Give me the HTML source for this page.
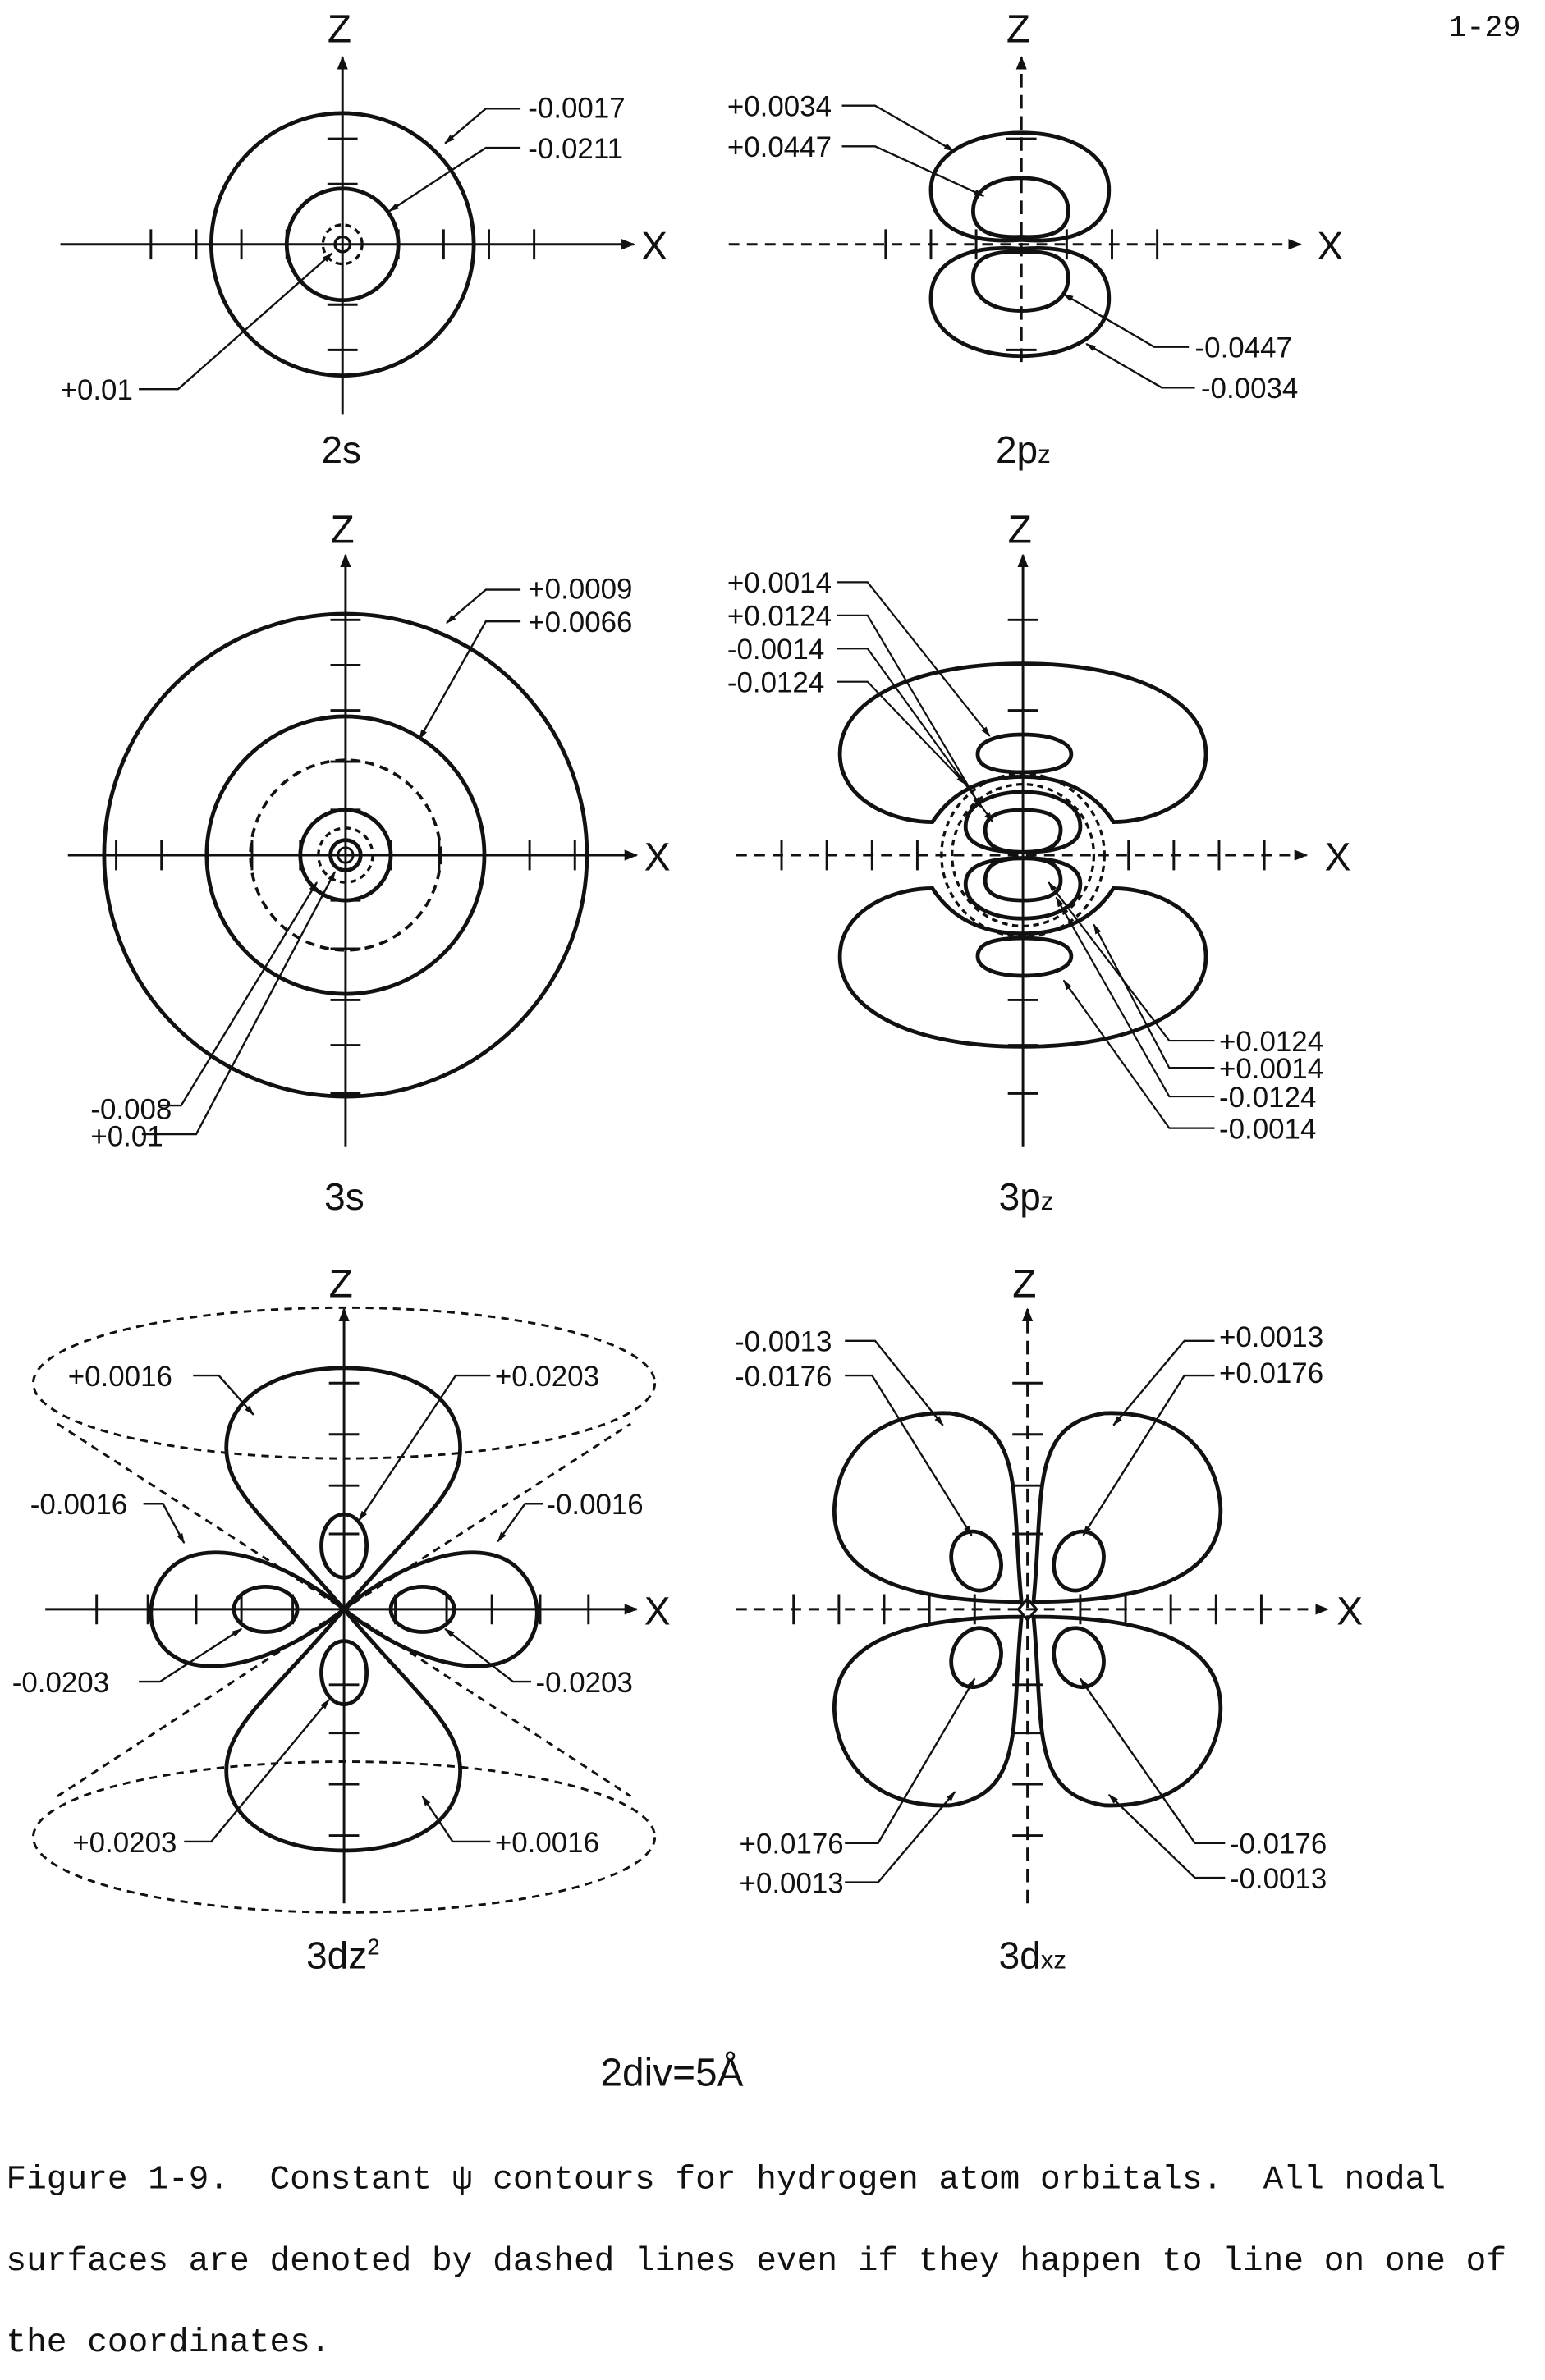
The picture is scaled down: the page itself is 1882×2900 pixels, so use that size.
<!DOCTYPE html>
<html><head><meta charset="utf-8"><style>
html,body{margin:0;padding:0;background:#fff;}
svg{display:block}
text{font-family:"Liberation Sans",sans-serif;fill:#111}
.l text{font-size:19px}
text.m{font-family:"Liberation Mono",monospace;font-size:22.4px;white-space:pre}
</style></head><body>
<svg width="1882" height="2900" viewBox="0 0 1024 1578" xmlns="http://www.w3.org/2000/svg">
<defs>
<marker id="a" viewBox="0 0 10 10" refX="9" refY="5" markerWidth="9" markerHeight="9" orient="auto-start-reverse" markerUnits="userSpaceOnUse"><path d="M0,1 L10,5 L0,9 Z" fill="#111"/></marker>
<marker id="s" viewBox="0 0 10 10" refX="9" refY="5" markerWidth="7" markerHeight="7" orient="auto" markerUnits="userSpaceOnUse"><path d="M0,2 L10,5 L0,8 Z" fill="#111"/></marker>
</defs>
<g fill="none" stroke="#111" stroke-width="2.6">
<text x="960" y="24" class="m" stroke="none" style="font-size:20px">1-29</text>

<!-- 2s -->
<line x1="40" y1="162" x2="420" y2="162" stroke-width="1.6" marker-end="url(#a)"/>
<line x1="227" y1="275" x2="227" y2="38" stroke-width="1.6" marker-end="url(#a)"/>
<g stroke-width="1.6">
<path d="M100,152v20M130,152v20M160,152v20M190,152v20M264,152v20M294,152v20M324,152v20M354,152v20M217,92h20M217,122h20M217,202h20M217,232h20"/></g>
<circle cx="227" cy="162" r="87"/>
<circle cx="227" cy="162" r="37"/>
<circle cx="227" cy="162" r="13" stroke-dasharray="4 3" stroke-width="1.8"/>
<circle cx="227" cy="162" r="5" stroke-width="1.8"/>
<g stroke-width="1.3">
<path d="M345,72H322L295,95" marker-end="url(#s)"/><path d="M345,98H322L258,140" marker-end="url(#s)"/>
<path d="M92,258H118L220,168" marker-end="url(#s)"/></g>
<g stroke="none" class="l"><text x="350" y="78">-0.0017</text><text x="350" y="105">-0.0211</text><text x="40" y="265">+0.01</text>
<text x="425" y="172" style="font-size:26px">X</text><text x="217" y="28" style="font-size:26px">Z</text><text x="213" y="307" style="font-size:25px">2s</text></g>

<!-- 2pz -->
<line x1="483" y1="162" x2="862" y2="162" stroke-width="1.6" stroke-dasharray="7 5" marker-end="url(#a)"/>
<line x1="677" y1="240" x2="677" y2="38" stroke-width="1.6" stroke-dasharray="9 5" marker-end="url(#a)"/>
<path stroke-width="1.6" d="M587,152v20M617,152v20M647,152v20M707,152v20M737,152v20M767,152v20M667,92h20M667,232h20"/>
<path d="M677,159 C640,162 617,150 617,126 C617,102 645,88 677,88 C709,88 735,102 735,126 C735,150 714,162 677,159Z"/>
<path d="M677,157 C655,158 645,152 645,140 C645,126 658,118 677,118 C696,118 708,126 708,140 C708,152 699,158 677,157Z"/>
<path d="M677,165 C640,162 617,174 617,198 C617,222 645,236 677,236 C709,236 735,222 735,198 C735,174 714,162 677,165Z"/>
<path d="M677,167 C655,166 645,172 645,184 C645,198 658,206 677,206 C696,206 708,198 708,184 C708,172 699,166 677,167Z"/>
<g stroke-width="1.3">
<path d="M558,70H580L632,100" marker-end="url(#s)"/><path d="M558,97H580L652,130" marker-end="url(#s)"/>
<path d="M788,230H765L705,195" marker-end="url(#s)"/><path d="M792,257H770L720,228" marker-end="url(#s)"/></g>
<g stroke="none" class="l"><text x="482" y="77">+0.0034</text><text x="482" y="104">+0.0447</text><text x="792" y="237">-0.0447</text><text x="796" y="264">-0.0034</text>
<text x="873" y="172" style="font-size:26px">X</text><text x="667" y="28" style="font-size:26px">Z</text><text x="660" y="307" style="font-size:25px">2p<tspan style="font-size:17px">z</tspan></text></g>

<!-- 3s -->
<line x1="45" y1="567" x2="422" y2="567" stroke-width="1.6" marker-end="url(#a)"/>
<line x1="229" y1="760" x2="229" y2="368" stroke-width="1.6" marker-end="url(#a)"/>
<path stroke-width="1.6" d="M77,557v20M107,557v20M137,557v20M167,557v20M199,557v20M259,557v20M291,557v20M321,557v20M351,557v20M381,557v20M219,411h20M219,441h20M219,471h20M219,505h20M219,537h20M219,597h20M219,629h20M219,663h20M219,693h20M219,725h20"/>
<circle cx="229" cy="567" r="160"/>
<circle cx="229" cy="567" r="92"/>
<circle cx="229" cy="567" r="63" stroke-dasharray="6 4" stroke-width="2"/>
<circle cx="229" cy="567" r="30"/>
<circle cx="229" cy="567" r="18" stroke-dasharray="4 3" stroke-width="1.8"/>
<circle cx="229" cy="567" r="10"/>
<circle cx="229" cy="567" r="5" stroke-width="1.6"/>
<g stroke-width="1.3">
<path d="M345,391H322L296,413" marker-end="url(#s)"/><path d="M345,412H322L278,490" marker-end="url(#s)"/>
<path d="M105,733H120L210,585" marker-end="url(#s)"/><path d="M94,752H130L222,578" marker-end="url(#s)"/></g>
<g stroke="none" class="l"><text x="350" y="397">+0.0009</text><text x="350" y="419">+0.0066</text><text x="60" y="742">-0.008</text><text x="60" y="760">+0.01</text>
<text x="427" y="577" style="font-size:26px">X</text><text x="219" y="360" style="font-size:26px">Z</text><text x="215" y="802" style="font-size:25px">3s</text></g>

<!-- 3pz -->
<line x1="488" y1="567" x2="866" y2="567" stroke-width="1.6" stroke-dasharray="7 5" marker-end="url(#a)"/>
<line x1="678" y1="760" x2="678" y2="368" stroke-width="1.6" marker-end="url(#a)"/>
<path stroke-width="1.6" d="M518,557v20M548,557v20M578,557v20M608,557v20M748,557v20M778,557v20M808,557v20M838,557v20M668,411h20M668,441h20M668,471h20M668,663h20M668,693h20M668,725h20"/>
<path d="M678,515 C705,515 725,525 738,545 C760,545 790,535 798,510 C808,470 760,440 678,440 C596,440 548,470 558,510 C566,535 596,545 618,545 C631,525 651,515 678,515Z"/>
<path d="M678,619 C705,619 725,609 738,589 C760,589 790,599 798,624 C808,664 760,694 678,694 C596,694 548,664 558,624 C566,599 596,589 618,589 C631,609 651,619 678,619Z"/>
<path d="M678,512 C655,512 648,507 648,500 C648,492 660,487 678,487 C696,487 710,492 710,500 C710,507 701,512 678,512Z"/>
<path d="M678,622 C655,622 648,627 648,634 C648,642 660,647 678,647 C696,647 710,642 710,634 C710,627 701,622 678,622Z"/>
<circle cx="678" cy="567" r="54" stroke-dasharray="4 3" stroke-width="1.8"/>
<circle cx="678" cy="567" r="47" stroke-dasharray="4 3" stroke-width="1.8"/>
<path d="M678,565 C650,565 640,558 640,548 C640,532 660,525 678,525 C696,525 716,532 716,548 C716,558 706,565 678,565Z"/>
<path d="M678,565 C660,565 653,560 653,550 C653,540 665,537 678,537 C691,537 703,540 703,550 C703,560 696,565 678,565Z"/>
<path d="M678,569 C650,569 640,576 640,586 C640,602 660,609 678,609 C696,609 716,602 716,586 C716,576 706,569 678,569Z"/>
<path d="M678,569 C660,569 653,574 653,584 C653,594 665,597 678,597 C691,597 703,594 703,584 C703,574 696,569 678,569Z"/>
<g stroke-width="1.2">
<path d="M555,386H575L656,488" marker-end="url(#s)"/><path d="M555,408H575L650,535" marker-end="url(#s)"/>
<path d="M555,430H575L658,545" marker-end="url(#s)"/><path d="M555,452H575L640,520" marker-end="url(#s)"/>
<path d="M805,690H775L695,585" marker-end="url(#s)"/><path d="M805,708H775L725,613" marker-end="url(#s)"/>
<path d="M805,727H775L700,595" marker-end="url(#s)"/><path d="M805,748H775L705,650" marker-end="url(#s)"/></g>
<g stroke="none" class="l"><text x="482" y="393">+0.0014</text><text x="482" y="415">+0.0124</text><text x="482" y="437">-0.0014</text><text x="482" y="459">-0.0124</text>
<text x="808" y="697">+0.0124</text><text x="808" y="715">+0.0014</text><text x="808" y="734">-0.0124</text><text x="808" y="755">-0.0014</text>
<text x="878" y="577" style="font-size:26px">X</text><text x="668" y="360" style="font-size:26px">Z</text><text x="662" y="802" style="font-size:25px">3p<tspan style="font-size:17px">z</tspan></text></g>

<!-- 3dz2 -->
<line x1="30" y1="1067" x2="422" y2="1067" stroke-width="1.6" marker-end="url(#a)"/>
<line x1="228" y1="1262" x2="228" y2="868" stroke-width="1.6" marker-end="url(#a)"/>
<path stroke-width="1.6" d="M64,1057v20M98,1057v20M130,1057v20M160,1057v20M194,1057v20M262,1057v20M296,1057v20M326,1057v20M358,1057v20M390,1057v20M218,917h20M218,951h20M218,985h20M218,1017h20M218,1117h20M218,1149h20M218,1183h20M218,1217h20"/>
<g stroke-dasharray="5 4" stroke-width="1.6">
<ellipse cx="228" cy="917" rx="206" ry="50"/><ellipse cx="228" cy="1218" rx="206" ry="50"/>
<path d="M38,944L228,1067L418,944M38,1191L228,1067L418,1191"/></g>
<path d="M228,1067 C180,1010 150,990 150,960 C150,925 185,907 228,907 C271,907 305,925 305,960 C305,990 276,1010 228,1067Z"/>
<path d="M228,1067 C180,1124 150,1144 150,1174 C150,1209 185,1227 228,1227 C271,1227 305,1209 305,1174 C305,1144 276,1124 228,1067Z"/>
<path d="M228,1067 C190,1035 140,1018 115,1038 C95,1055 95,1085 115,1098 C140,1115 190,1098 228,1067Z"/>
<path d="M228,1067 C266,1035 316,1018 341,1038 C361,1055 361,1085 341,1098 C316,1115 266,1098 228,1067Z"/>
<ellipse cx="228" cy="1025" rx="15" ry="21"/><ellipse cx="228" cy="1109" rx="15" ry="21"/>
<ellipse cx="176" cy="1067" rx="21" ry="15"/><ellipse cx="280" cy="1067" rx="21" ry="15"/>
<g stroke-width="1.3">
<path d="M128,912H145L168,938" marker-end="url(#s)"/><path d="M325,912H302L238,1008" marker-end="url(#s)"/>
<path d="M95,997H108L122,1023" marker-end="url(#s)"/><path d="M360,997H348L330,1022" marker-end="url(#s)"/>
<path d="M92,1115H106L160,1080" marker-end="url(#s)"/><path d="M352,1115H340L295,1080" marker-end="url(#s)"/>
<path d="M122,1221H140L218,1127" marker-end="url(#s)"/><path d="M325,1221H300L280,1191" marker-end="url(#s)"/></g>
<g stroke="none" class="l"><text x="45" y="919">+0.0016</text><text x="328" y="919">+0.0203</text>
<text x="20" y="1004">-0.0016</text><text x="362" y="1004">-0.0016</text><text x="8" y="1122">-0.0203</text><text x="355" y="1122">-0.0203</text>
<text x="48" y="1228">+0.0203</text><text x="328" y="1228">+0.0016</text>
<text x="427" y="1077" style="font-size:26px">X</text><text x="218" y="860" style="font-size:26px">Z</text><text x="203" y="1305" style="font-size:25px">3dz<tspan style="font-size:15px" dy="-9">2</tspan></text></g>

<!-- 3dxz -->
<line x1="488" y1="1067" x2="880" y2="1067" stroke-width="1.6" stroke-dasharray="7 5" marker-end="url(#a)"/>
<line x1="681" y1="1262" x2="681" y2="868" stroke-width="1.6" stroke-dasharray="9 5" marker-end="url(#a)"/>
<path stroke-width="1.6" d="M526,1057v20M556,1057v20M586,1057v20M616,1057v20M646,1057v20M716,1057v20M746,1057v20M776,1057v20M806,1057v20M836,1057v20M671,917h20M671,951h20M671,985h20M671,1017h20M671,1117h20M671,1149h20M671,1183h20M671,1217h20"/>
<path d="M677,1062 C670,990 680,945 630,937 C580,935 555,965 553,1000 C552,1045 600,1062 677,1062Z"/>
<path d="M685,1062 C692,990 682,945 732,937 C782,935 807,965 809,1000 C810,1045 762,1062 685,1062Z"/>
<path d="M677,1072 C670,1144 680,1189 630,1197 C580,1199 555,1169 553,1134 C552,1089 600,1072 677,1072Z"/>
<path d="M685,1072 C692,1144 682,1189 732,1197 C782,1199 807,1169 809,1134 C810,1089 762,1072 685,1072Z"/>
<path d="M681,1060L687,1067L681,1074L675,1067Z" stroke-width="1.8"/>
<ellipse cx="647" cy="1035" rx="16" ry="20" transform="rotate(-20 647 1035)"/>
<ellipse cx="715" cy="1035" rx="16" ry="20" transform="rotate(20 715 1035)"/>
<ellipse cx="647" cy="1099" rx="16" ry="20" transform="rotate(20 647 1099)"/>
<ellipse cx="715" cy="1099" rx="16" ry="20" transform="rotate(-20 715 1099)"/>
<g stroke-width="1.3">
<path d="M560,889H580L625,945" marker-end="url(#s)"/><path d="M560,912H578L644,1018" marker-end="url(#s)"/>
<path d="M805,889H785L738,945" marker-end="url(#s)"/><path d="M805,912H785L718,1018" marker-end="url(#s)"/>
<path d="M560,1222H582L646,1113" marker-end="url(#s)"/><path d="M560,1248H582L633,1188" marker-end="url(#s)"/>
<path d="M812,1222H792L716,1113" marker-end="url(#s)"/><path d="M812,1245H792L735,1190" marker-end="url(#s)"/></g>
<g stroke="none" class="l"><text x="487" y="896">-0.0013</text><text x="487" y="919">-0.0176</text><text x="808" y="893">+0.0013</text><text x="808" y="917">+0.0176</text>
<text x="490" y="1229">+0.0176</text><text x="490" y="1255">+0.0013</text><text x="815" y="1229">-0.0176</text><text x="815" y="1252">-0.0013</text>
<text x="886" y="1077" style="font-size:26px">X</text><text x="671" y="860" style="font-size:26px">Z</text><text x="662" y="1305" style="font-size:25px">3d<tspan style="font-size:17px">xz</tspan></text></g>

<text x="398" y="1383" stroke="none" style="font-size:26px">2div=5Å</text>
<g stroke="none"><text x="4" y="1451" class="m">Figure 1-9.  Constant ψ contours for hydrogen atom orbitals.  All nodal</text>
<text x="4" y="1505" class="m">surfaces are denoted by dashed lines even if they happen to line on one of</text>
<text x="4" y="1559" class="m">the coordinates.</text></g>
</g>
</svg>
</body></html>
